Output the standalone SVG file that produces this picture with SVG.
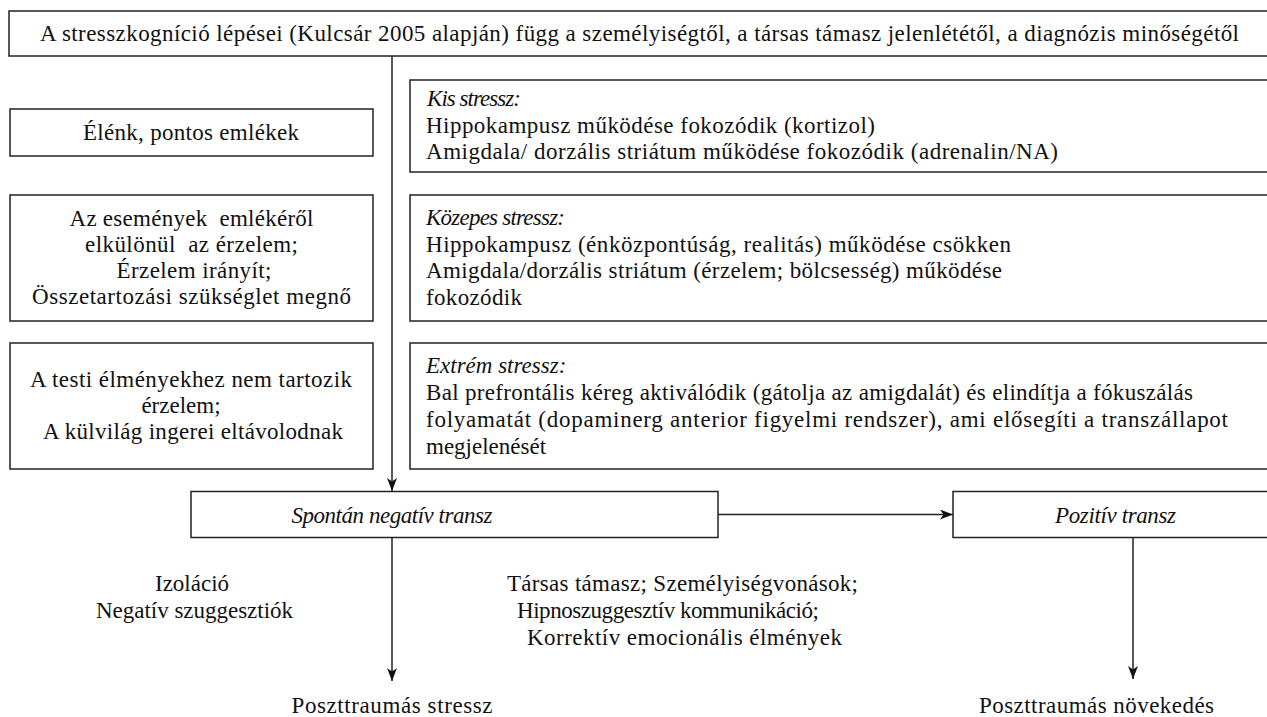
<svg xmlns="http://www.w3.org/2000/svg" width="1267" height="717" viewBox="0 0 1267 717">
<defs>
<style>
text{font-family:"Liberation Serif","Times New Roman",serif;font-size:23px;fill:#111}
.i{font-style:italic}
.m{text-anchor:middle}
.box{fill:#fff;stroke:#222;stroke-width:1.5}
.ln{fill:none;stroke:#222;stroke-width:1.5}
</style>
<marker id="ah" markerUnits="userSpaceOnUse" markerWidth="14" markerHeight="11" refX="13" refY="5" orient="auto">
<path d="M0,0 L13,5 L0,10 L3.5,5 z" fill="#111"/>
</marker>
</defs>
<rect width="1267" height="717" fill="#fff"/>
<g id="connectors">
<line class="ln" x1="392" y1="56" x2="392" y2="491" marker-end="url(#ah)"/>
<line class="ln" x1="392" y1="538" x2="392" y2="681" marker-end="url(#ah)"/>
<line class="ln" x1="718" y1="514.5" x2="953" y2="514.5" marker-end="url(#ah)"/>
<line class="ln" x1="1133" y1="538" x2="1133" y2="679" marker-end="url(#ah)"/>
</g>
<g id="top">
<rect class="box" x="9" y="11" width="1262" height="45"/>
<text x="40" y="41" textLength="1199">A stresszkogníció lépései (Kulcsár 2005 alapján) függ a személyiségtől, a társas támasz jelenlététől, a diagnózis minőségétől</text>
</g>
<g id="left1">
<rect class="box" x="10" y="109" width="363" height="47"/>
<text class="m" x="191" y="140" textLength="216">Élénk, pontos emlékek</text>
</g>
<g id="left2">
<rect class="box" x="10" y="195" width="363" height="126"/>
<text class="m" x="191.5" y="226" textLength="244" xml:space="preserve">Az események  emlékéről</text>
<text class="m" x="191.5" y="252" textLength="213" xml:space="preserve">elkülönül  az érzelem;</text>
<text class="m" x="194" y="278" textLength="155">Érzelem irányít;</text>
<text class="m" x="191.5" y="304" textLength="319">Összetartozási szükséglet megnő</text>
</g>
<g id="left3">
<rect class="box" x="10" y="343" width="363" height="126"/>
<text class="m" x="191" y="387" textLength="322">A testi élményekhez nem tartozik</text>
<text class="m" x="181" y="413">érzelem;</text>
<text class="m" x="193" y="439" textLength="300">A külvilág ingerei eltávolodnak</text>
</g>
<g id="kis">
<rect class="box" x="410" y="80" width="861" height="92"/>
<text class="i" x="427" y="106" textLength="94">Kis stressz:</text>
<text x="426" y="132.5" textLength="449">Hippokampusz működése fokozódik (kortizol)</text>
<text x="426" y="159" textLength="632">Amigdala/ dorzális striátum működése fokozódik (adrenalin/NA)</text>
</g>
<g id="kozepes">
<rect class="box" x="410" y="195" width="861" height="126"/>
<text class="i" x="426" y="225" textLength="139">Közepes stressz:</text>
<text x="426" y="251.5" textLength="585">Hippokampusz (énközpontúság, realitás) működése csökken</text>
<text x="426" y="278" textLength="576">Amigdala/dorzális striátum (érzelem; bölcsesség) működése</text>
<text x="426" y="304.5" textLength="96">fokozódik</text>
</g>
<g id="extrem">
<rect class="box" x="410" y="343" width="861" height="126"/>
<text class="i" x="426" y="373">Extrém stressz:</text>
<text x="426" y="400" textLength="767">Bal prefrontális kéreg aktiválódik (gátolja az amigdalát) és elindítja a fókuszálás</text>
<text x="426" y="427" textLength="802">folyamatát (dopaminerg anterior figyelmi rendszer), ami elősegíti a transzállapot</text>
<text x="426" y="454">megjelenését</text>
</g>
<g id="spontan">
<rect class="box" x="191" y="491.5" width="527" height="46"/>
<text class="i m" x="392" y="522.5" textLength="201">Spontán negatív transz</text>
</g>
<g id="pozitiv">
<rect class="box" x="953" y="491.5" width="318" height="46"/>
<text class="i m" x="1115.5" y="522.5" textLength="121">Pozitív transz</text>
</g>
<g id="labels">
<text x="155" y="591" textLength="74">Izoláció</text>
<text x="96" y="618" textLength="197">Negatív szuggesztiók</text>
<text x="507" y="591" textLength="351">Társas támasz; Személyiségvonások;</text>
<text x="517" y="618" textLength="302">Hipnoszuggesztív kommunikáció;</text>
<text x="527" y="645" textLength="315">Korrektív emocionális élmények</text>
</g>
<g id="outcome1"><text class="m" x="392" y="713" textLength="201">Poszttraumás stressz</text></g>
<g id="outcome2"><text x="979" y="713" textLength="235">Poszttraumás növekedés</text></g>
</svg>
